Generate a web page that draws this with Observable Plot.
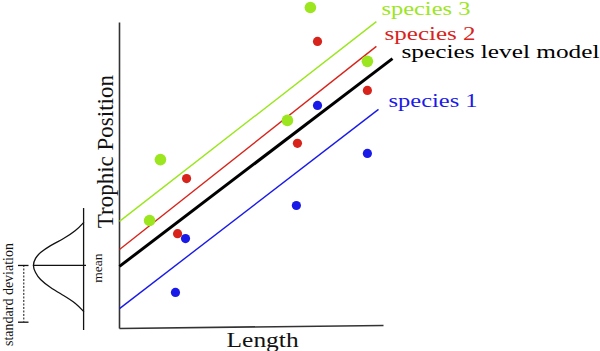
<!DOCTYPE html>
<html>
<head>
<meta charset="utf-8">
<script src="https://cdn.jsdelivr.net/npm/d3@7"></script>
<script src="https://cdn.jsdelivr.net/npm/@observablehq/plot@0.6"></script>
<style>
  html, body { margin: 0; padding: 0; background: #fff; }
  #chart svg { display: block; }
  #chart svg text { font-family: "Liberation Serif", "Times New Roman", serif; }
</style>
</head>
<body>
<div id="chart"></div>
<script>
// ---- data (Length / Trophic Position, arbitrary units) ----
const seriesNames = ["species 1", "species 2", "species 3", "species level model"];
const seriesColors = ["#1a1ae8", "#d8231a", "#9be61e", "#000000"];

const sp1Length  = [2.12, 2.50, 6.70, 7.50, 9.39];
const sp1Trophic = [1.18, 2.94, 4.02, 7.29, 5.72];
const sp2Length  = [2.20, 2.54, 6.74, 7.50, 9.39];
const sp2Trophic = [3.10, 4.90, 6.05, 9.38, 7.78];
const sp3Length  = [1.14, 1.55, 6.36, 7.23, 9.39];
const sp3Trophic = [3.53, 5.52, 6.80, 10.49, 8.73];

// fitted lines: start / end (same order as seriesNames)
const fitLength0  = [0, 0, 0, 0];
const fitLength1  = [9.81, 9.73, 9.73, 10.34];
const fitTrophic0 = [0.65, 2.58, 3.50, 2.03];
const fitTrophic1 = [7.16, 9.22, 10.03, 8.82];

// label anchors (same order as seriesNames)
const labelLength  = [10.19, 10.04, 9.92, 10.68];
const labelTrophic = [7.25, 9.44, 10.26, 8.85];

// axes
const axisXEnd = [10, 0.1];
const axisYTop = 10;

// bell curve (distribution sketch)
const bellX = [-1.36, -1.67, -2.12, -2.61, -2.99, -3.18, -3.26, -3.18, -2.99, -2.61, -2.12, -1.67, -1.36];
const bellY = [3.46, 3.20, 2.94, 2.71, 2.48, 2.29, 2.06, 1.83, 1.60, 1.34, 1.08, 0.82, 0.56];
const bellBase = -1.36, bellBaseTop = 3.92, bellBaseBottom = -0.065;
const bellMean = 2.06, bellMeanLeft = -3.26, bellMeanRight = -1.25;
const sdX = -3.625, sdEnd = 0.206, sdCapLeft = -3.826, sdCapRight = -3.428;

// ---- tables ----
const points = [
  ...sp1Length.map((x, i) => ({name: "species 1", x, y: sp1Trophic[i]})),
  ...sp2Length.map((x, i) => ({name: "species 2", x, y: sp2Trophic[i]})),
  ...sp3Length.map((x, i) => ({name: "species 3", x, y: sp3Trophic[i]}))
];
const fits = seriesNames.map((name, i) => ({
  name, x1: fitLength0[i], x2: fitLength1[i], y1: fitTrophic0[i], y2: fitTrophic1[i]
}));
const labels = seriesNames.map((name, i) => ({name, x: labelLength[i], y: labelTrophic[i]}));
const bell = bellX.map((x, i) => ({x, y: bellY[i]}));

const serif = "Liberation Serif";

const chart = Plot.plot({
  width: 600,
  height: 351,
  marginLeft: 119,
  marginRight: 217,
  marginTop: 22,
  marginBottom: 23,
  x: {domain: [0, 10], axis: null},
  y: {domain: [0, 10], axis: null},
  color: {domain: seriesNames, range: seriesColors},
  style: {background: "#fff", fontFamily: serif},
  marks: [
    // axes
    Plot.link([0], {x1: 0, y1: 0, x2: 0, y2: axisYTop, stroke: "#333", strokeWidth: 1.6}),
    Plot.link([0], {x1: 0, y1: 0, x2: axisXEnd[0], y2: axisXEnd[1], stroke: "#333", strokeWidth: 1.6}),
    // fitted lines
    Plot.link(fits, {
      x1: "x1", y1: "y1", x2: "x2", y2: "y2", stroke: "name",
      strokeWidth: d => d.name === "species level model" ? 3 : 1.4
    }),
    // observations
    Plot.dot(points.filter(d => d.name !== "species 3"), {x: "x", y: "y", fill: "name", r: 4.6}),
    Plot.dot(points.filter(d => d.name === "species 3"), {x: "x", y: "y", fill: "name", r: 5.8}),
    // series labels
    Plot.text(labels, {
      x: "x", y: "y", text: "name", fill: "name", fontFamily: serif,
      textAnchor: "start", lineAnchor: "bottom", fontSize: 18
    }),
    // axis titles
    Plot.text(["Trophic Position"], {
      x: -0.53, y: 5.78, text: d => d, rotate: -90, fontSize: 23, fill: "#111", fontFamily: serif
    }),
    Plot.text(["Length"], {
      x: 5.42, y: -0.59, text: d => d, fontSize: 21, lineAnchor: "bottom", fill: "#111", fontFamily: serif
    }),
    // distribution sketch
    Plot.line(bell, {x: "x", y: "y", curve: "natural", stroke: "#111", strokeWidth: 1.3}),
    Plot.ruleX([bellBase], {y1: bellBaseTop, y2: bellBaseBottom, stroke: "#111", strokeWidth: 1.3}),
    Plot.ruleY([bellMean], {x1: bellMeanLeft, x2: bellMeanRight, stroke: "#111", strokeWidth: 1.3}),
    Plot.ruleX([sdX], {y1: bellMean, y2: sdEnd, stroke: "#111", strokeWidth: 1, strokeDasharray: "2,1.5"}),
    Plot.ruleY([bellMean, sdEnd], {x1: sdCapLeft, x2: sdCapRight, stroke: "#111", strokeWidth: 1.3}),
    Plot.text(["mean"], {x: -0.814, y: 1.977, text: d => d, rotate: -90, fontSize: 13.5, fill: "#111", fontFamily: serif}),
    Plot.text(["standard deviation"], {x: -4.186, y: 1.111, text: d => d, rotate: -90, fontSize: 14, fill: "#111", fontFamily: serif})
  ]
});

// widen the wide serif labels as in the original drawing
const stretch = {"species 1": 89, "species 2": 91, "species 3": 89, "species level model": 198, "Length": 72};
d3.select(chart).selectAll("text").each(function() {
  const t = this.textContent;
  if (stretch[t]) {
    this.setAttribute("textLength", stretch[t]);
    this.setAttribute("lengthAdjust", "spacingAndGlyphs");
  }
});

document.getElementById("chart").appendChild(chart);
</script>
</body>
</html>
